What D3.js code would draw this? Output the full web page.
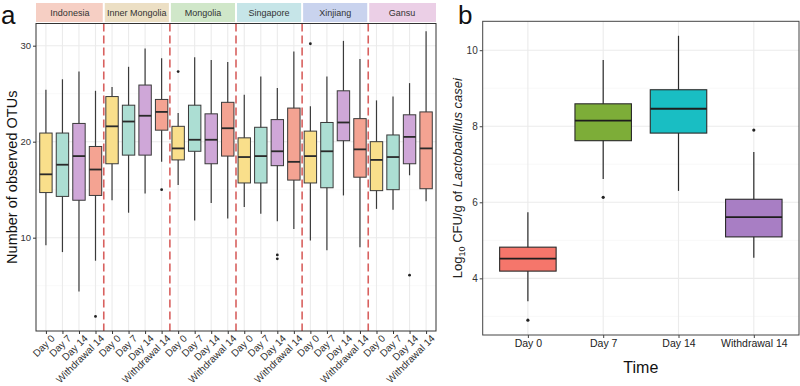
<!DOCTYPE html>
<html>
<head>
<meta charset="utf-8">
<script src="https://cdn.jsdelivr.net/npm/d3@7"></script>
<style>
  body { margin: 0; background: #fff; }
  text { font-family: "Liberation Sans", Arial, sans-serif; }
</style>
</head>
<body>
<div id="chart"></div>
<script>
// ---------- data ---------- //
var regions = ["Indonesia", "Inner Mongolia", "Mongolia", "Singapore", "Xinjiang", "Gansu"];
var times = ["Day 0", "Day 7", "Day 14", "Withdrawal 14"];

// each row: [lower whisker, q1, median, q3, upper whisker]
var indonesia    = [[9.2, 14.7, 16.6, 20.9, 25.4], [8.5, 14.3, 17.6, 20.9, 26.5], [4.4, 13.9, 18.5, 21.9, 27.3], [7.6, 14.4, 17.1, 19.5, 25.3]];
var innerMongolia = [[13.9, 17.7, 21.6, 24.7, 25.7], [12.6, 18.6, 22.1, 23.8, 27.8], [14.6, 18.6, 22.7, 25.9, 29.7], [17.9, 21.2, 23.1, 24.4, 28.7]];
var mongolia     = [[15.5, 18.1, 19.3, 21.6, 23.0], [11.8, 19.0, 20.2, 23.8, 28.8], [13.6, 17.7, 20.2, 22.9, 28.5], [12.0, 18.5, 21.4, 24.1, 28.3]];
var singapore    = [[13.2, 15.7, 18.4, 20.4, 24.9], [12.5, 15.7, 18.5, 21.5, 26.8], [11.7, 17.5, 19.0, 22.3, 25.6], [10.9, 16.0, 17.9, 23.5, 29.4]];
var xinjiang     = [[9.7, 15.7, 18.5, 21.1, 23.7], [8.7, 15.2, 19.0, 22.0, 26.8], [14.4, 20.1, 22.0, 25.3, 30.5], [9.0, 16.3, 19.2, 22.4, 28.6]];
var gansu        = [[13.0, 14.9, 18.1, 20.0, 24.3], [12.9, 15.0, 18.4, 20.7, 24.7], [16.5, 17.7, 20.5, 22.8, 26.1], [13.8, 15.1, 19.3, 23.1, 31.5]];
var statsA = [indonesia, innerMongolia, mongolia, singapore, xinjiang, gansu];

// [region index, time index, value]
var outliersA = [[0, 3, 1.8], [1, 3, 15.0], [2, 0, 27.3], [3, 2, 8.2], [3, 2, 7.8], [4, 0, 30.2], [5, 2, 6.1]];

var ticksA = [10, 20, 30];

var statsB = [[3.40, 4.19, 4.52, 4.82, 5.74], [6.61, 7.62, 8.15, 8.59, 9.74], [6.30, 7.82, 8.46, 8.96, 10.38], [4.54, 5.09, 5.61, 6.08, 7.32]];
var outliersB = [[0, 2.90], [1, 6.13], [3, 7.90]];
var ticksB = [4, 6, 8, 10];

// ---------- styles ---------- //
var stripColors = ["#f6cfc4", "#ecdfc4", "#d0e7c9", "#c6e5e8", "#c9d3ee", "#ebcfe6"];
var boxColorsA = ["#f9df8b", "#acded3", "#cfa7d8", "#f4a392"];
var boxColorsB = ["#f5766b", "#7dad38", "#19bec3", "#a87ec4"];

var svg = d3.select("#chart").append("svg")
  .attr("width", 800)
  .attr("height", 386);

// ---------- panel a ---------- //
var pa = { left: 36, right: 436, top: 23.5, bottom: 331 };

var keysA = [];
regions.forEach(function(r, i) { times.forEach(function(t, j) { keysA.push(i + "|" + j); }); });

var xA = d3.scalePoint().domain(keysA).range([pa.left, pa.right]).padding(0.6);
var yA = d3.scaleLinear().domain([0.28, 32.31]).range([pa.bottom, pa.top]);
var stepA = xA.step();
var bwA = stepA * 0.75;

var gA = svg.append("g");

// grid
gA.append("g").selectAll("line")
  .data([5, 15, 25])
  .join("line")
  .attr("x1", pa.left).attr("x2", pa.right)
  .attr("y1", d => yA(d)).attr("y2", d => yA(d))
  .attr("stroke", "#f3f3f3").attr("stroke-width", 0.6);
gA.append("g").selectAll("line")
  .data(ticksA)
  .join("line")
  .attr("x1", pa.left).attr("x2", pa.right)
  .attr("y1", d => yA(d)).attr("y2", d => yA(d))
  .attr("stroke", "#ebebeb").attr("stroke-width", 1.1);
gA.append("g").selectAll("line")
  .data(keysA)
  .join("line")
  .attr("x1", d => xA(d)).attr("x2", d => xA(d))
  .attr("y1", pa.top).attr("y2", pa.bottom)
  .attr("stroke", "#ebebeb").attr("stroke-width", 1.1);

// strips
var groupEdge = function(i) {
  if (i == 0) return pa.left;
  if (i == regions.length) return pa.right;
  return (xA((i - 1) + "|3") + xA(i + "|0")) / 2;
};
var strips = gA.append("g").selectAll("g")
  .data(regions)
  .join("g");
strips.append("rect")
  .attr("x", (d, i) => groupEdge(i) + (i == 0 ? 0 : 1))
  .attr("width", (d, i) => groupEdge(i + 1) - groupEdge(i) - (i == 0 ? 1 : 2) + (i == regions.length - 1 ? 1 : 0))
  .attr("y", 3).attr("height", 19)
  .attr("fill", (d, i) => stripColors[i]);
strips.append("text")
  .attr("x", (d, i) => (groupEdge(i) + groupEdge(i + 1)) / 2)
  .attr("y", 15.5)
  .attr("text-anchor", "middle")
  .attr("font-size", 9)
  .attr("fill", "#333")
  .text(d => d);

// dashed separators
gA.append("g").selectAll("line")
  .data(d3.range(1, regions.length))
  .join("line")
  .attr("x1", d => groupEdge(d)).attr("x2", d => groupEdge(d))
  .attr("y1", pa.top).attr("y2", pa.bottom)
  .attr("stroke", "#d8615f")
  .attr("stroke-width", 1.6)
  .attr("stroke-dasharray", "8,4");

// boxes
var flatA = [];
statsA.forEach(function(rows, i) {
  rows.forEach(function(s, j) { flatA.push({ key: i + "|" + j, t: j, s: s }); });
});

var boxA = gA.append("g").selectAll("g")
  .data(flatA)
  .join("g");
boxA.append("line")
  .attr("x1", d => xA(d.key)).attr("x2", d => xA(d.key))
  .attr("y1", d => yA(d.s[0])).attr("y2", d => yA(d.s[4]))
  .attr("stroke", "#3a3a3a").attr("stroke-width", 1.2);
boxA.append("rect")
  .attr("x", d => xA(d.key) - bwA / 2)
  .attr("width", bwA)
  .attr("y", d => yA(d.s[3]))
  .attr("height", d => yA(d.s[1]) - yA(d.s[3]))
  .attr("fill", d => boxColorsA[d.t])
  .attr("stroke", "#3a3a3a").attr("stroke-width", 1);
boxA.append("line")
  .attr("x1", d => xA(d.key) - bwA / 2).attr("x2", d => xA(d.key) + bwA / 2)
  .attr("y1", d => yA(d.s[2])).attr("y2", d => yA(d.s[2]))
  .attr("stroke", "#2a2a2a").attr("stroke-width", 1.8);

gA.append("g").selectAll("circle")
  .data(outliersA)
  .join("circle")
  .attr("cx", d => xA(d[0] + "|" + d[1]))
  .attr("cy", d => yA(d[2]))
  .attr("r", 1.4)
  .attr("fill", "#222");

// border
gA.append("rect")
  .attr("x", pa.left).attr("y", pa.top)
  .attr("width", pa.right - pa.left).attr("height", pa.bottom - pa.top)
  .attr("fill", "none").attr("stroke", "#333").attr("stroke-width", 1);

// axes
gA.append("g")
  .attr("transform", `translate(${pa.left},0)`)
  .call(d3.axisLeft(yA).tickValues(ticksA).tickSize(3).tickPadding(2))
  .call(g => g.select(".domain").remove())
  .call(g => g.selectAll("line").attr("stroke", "#333"))
  .call(g => g.selectAll("text").attr("font-size", 9.5).attr("fill", "#333").attr("font-family", null));

gA.append("g")
  .attr("transform", `translate(0,${pa.bottom})`)
  .call(d3.axisBottom(xA).tickSize(3).tickFormat(d => times[+d.split("|")[1]]))
  .call(g => g.select(".domain").remove())
  .call(g => g.selectAll("line").attr("stroke", "#333"))
  .call(g => g.selectAll("text")
              .attr("font-size", 10).attr("fill", "#333").attr("font-family", null)
              .attr("text-anchor", "end")
              .attr("transform", "translate(4,3) rotate(-45)")
              .attr("y", 0).attr("x", 0).attr("dy", "0.7em"));

svg.append("text")
  .attr("transform", `translate(17,${(pa.top + pa.bottom) / 2}) rotate(-90)`)
  .attr("text-anchor", "middle")
  .attr("font-size", 14.5)
  .attr("fill", "#111")
  .text("Number of observed OTUs");

svg.append("text")
  .attr("x", 1).attr("y", 23.6)
  .attr("font-size", 26)
  .attr("fill", "#111")
  .text("a");

// ---------- panel b ---------- //
var pb = { left: 482.7, right: 799, top: 21.3, bottom: 335 };

var xB = d3.scalePoint().domain(d3.range(times.length)).range([pb.left, pb.right]).padding(0.6);
var yB = d3.scaleLinear().domain([2.51, 10.76]).range([pb.bottom, pb.top]);
var bwB = xB.step() * 0.75;

var gB = svg.append("g");

gB.append("g").selectAll("line")
  .data([3, 5, 7, 9])
  .join("line")
  .attr("x1", pb.left).attr("x2", pb.right)
  .attr("y1", d => yB(d)).attr("y2", d => yB(d))
  .attr("stroke", "#f3f3f3").attr("stroke-width", 0.6);
gB.append("g").selectAll("line")
  .data(ticksB)
  .join("line")
  .attr("x1", pb.left).attr("x2", pb.right)
  .attr("y1", d => yB(d)).attr("y2", d => yB(d))
  .attr("stroke", "#ebebeb").attr("stroke-width", 1.1);
gB.append("g").selectAll("line")
  .data(d3.range(times.length))
  .join("line")
  .attr("x1", d => xB(d)).attr("x2", d => xB(d))
  .attr("y1", pb.top).attr("y2", pb.bottom)
  .attr("stroke", "#ebebeb").attr("stroke-width", 1.1);

var boxB = gB.append("g").selectAll("g")
  .data(statsB)
  .join("g");
boxB.append("line")
  .attr("x1", (d, i) => xB(i)).attr("x2", (d, i) => xB(i))
  .attr("y1", d => yB(d[0])).attr("y2", d => yB(d[4]))
  .attr("stroke", "#2a2a2a").attr("stroke-width", 1.2);
boxB.append("rect")
  .attr("x", (d, i) => xB(i) - bwB / 2)
  .attr("width", bwB)
  .attr("y", d => yB(d[3]))
  .attr("height", d => yB(d[1]) - yB(d[3]))
  .attr("fill", (d, i) => boxColorsB[i])
  .attr("stroke", "#2a2a2a").attr("stroke-width", 1.1);
boxB.append("line")
  .attr("x1", (d, i) => xB(i) - bwB / 2).attr("x2", (d, i) => xB(i) + bwB / 2)
  .attr("y1", d => yB(d[2])).attr("y2", d => yB(d[2]))
  .attr("stroke", "#1e1e1e").attr("stroke-width", 1.8);

gB.append("g").selectAll("circle")
  .data(outliersB)
  .join("circle")
  .attr("cx", d => xB(d[0]))
  .attr("cy", d => yB(d[1]))
  .attr("r", 1.6)
  .attr("fill", "#222");

gB.append("rect")
  .attr("x", pb.left).attr("y", pb.top)
  .attr("width", pb.right - pb.left).attr("height", pb.bottom - pb.top)
  .attr("fill", "none").attr("stroke", "#444").attr("stroke-width", 1);

gB.append("g")
  .attr("transform", `translate(${pb.left},0)`)
  .call(d3.axisLeft(yB).tickValues(ticksB).tickSize(3).tickPadding(2))
  .call(g => g.select(".domain").remove())
  .call(g => g.selectAll("line").attr("stroke", "#444"))
  .call(g => g.selectAll("text").attr("font-size", 10).attr("fill", "#333").attr("font-family", null));

gB.append("g")
  .attr("transform", `translate(0,${pb.bottom})`)
  .call(d3.axisBottom(xB).tickSize(3).tickPadding(2).tickFormat(d => times[d]))
  .call(g => g.select(".domain").remove())
  .call(g => g.selectAll("line").attr("stroke", "#444"))
  .call(g => g.selectAll("text").attr("font-size", 10.5).attr("fill", "#222").attr("font-family", null));

svg.append("text")
  .attr("x", (pb.left + pb.right) / 2).attr("y", 373)
  .attr("text-anchor", "middle")
  .attr("font-size", 16)
  .attr("fill", "#111")
  .text("Time");

var yTitle = svg.append("text")
  .attr("transform", `translate(462,${(pb.top + pb.bottom) / 2}) rotate(-90)`)
  .attr("text-anchor", "middle")
  .attr("font-size", 13)
  .attr("fill", "#222");
yTitle.append("tspan").text("Log");
yTitle.append("tspan").attr("font-size", 9).attr("dy", 3).text("10");
yTitle.append("tspan").attr("dy", -3).text(" CFU/g of ");
yTitle.append("tspan").attr("font-style", "italic").text("Lactobacillus casei");

svg.append("text")
  .attr("x", 458).attr("y", 23.6)
  .attr("font-size", 26)
  .attr("fill", "#111")
  .text("b");
</script>
</body>
</html>
